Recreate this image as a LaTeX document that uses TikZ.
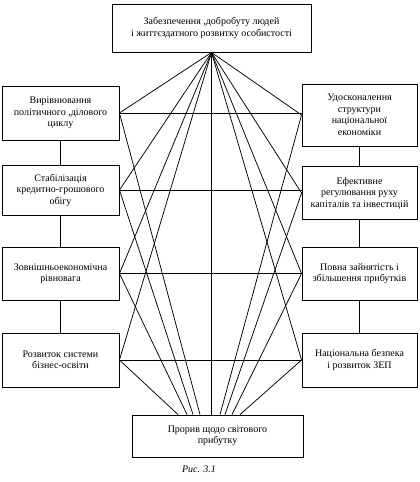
\documentclass[tikz,border=0pt]{standalone}
\usepackage{fontspec}
\setmainfont{Liberation Serif}

\begin{document}
\begin{tikzpicture}[x=1pt, y=-1pt,
    box/.style={draw, line width=0.9pt, align=center, inner sep=1pt,
      font=\fontsize{10}{11.5}\selectfont},
    lbox/.style={box, minimum width=117pt},
    rbox/.style={box, minimum width=115pt},
    link/.style={line width=0.75pt}]
    \useasboundingbox (0,0) rectangle (420,482);

    % верхній і нижній блоки
    \node[box, minimum width=199pt, minimum height=48pt] (top) at (211.5,28)
      {Забезпечення ,добробуту людей\\і життєздатного розвитку особистості};
    \node[box, minimum width=171pt, minimum height=42pt] (bot) at (217.5,436)
      {Прорив щодо світового\\прибутку};

    % ліва колонка
    \node[lbox, minimum height=54pt] (l1) at (60.5,113) {Вирівнювання\\політичного ,ділового\\циклу};
    \node[lbox, minimum height=50pt] (l2) at (60.5,190) {Стабілізація\\кредитно-грошового\\обігу};
    \node[lbox, minimum height=53pt] (l3) at (60.5,273.5) {Зовнішньоекономічна\\рівновага};
    \node[lbox, minimum height=54pt] (l4) at (60.5,360) {Розвиток системи\\бізнес-освіти};

    % права колонка
    \node[rbox, minimum height=62pt] (r1) at (359.5,115) {Удосконалення\\структури\\національної\\економіки};
    \node[rbox, minimum height=53pt] (r2) at (359.5,193) {Ефективне\\регулювання руху\\капіталів та інвестицій};
    \node[rbox, minimum height=53pt] (r3) at (359.5,273.5) {Повна зайнятість і\\збільшення прибутків};
    \node[rbox, minimum height=54pt] (r4) at (359.5,360) {Національна безпека\\і розвиток ЗЕП};

    % зв'язки між блоками колонок
    \draw[link] (l1) -- (l2) -- (l3) -- (l4);
    \draw[link] (r1) -- (r2) -- (r3) -- (r4);

    % центральна вісь
    \draw[link] (top.south) -- (top.south |- bot.north);

    % промені від верхнього блоку та до нижнього
    \foreach \n/\bx in {l1/200, l2/193, l3/187, l4/178} {
      \draw[link] (top.south) -- (\n.east);
      \draw[link] (\n.east) -- (\bx,0 |- bot.north);
    }
    \foreach \n/\bx in {r1/220, r2/225, r3/232, r4/240} {
      \draw[link] (top.south) -- (\n.west);
      \draw[link] (\n.west) -- (\bx,0 |- bot.north);
    }

    % горизонталі між лівою і правою колонками
    \foreach \i in {1,...,4}
      \draw[link] (l\i.east) -- (l\i.east -| r\i.west);

    % підпис
    \node[font=\fontsize{10}{11}\selectfont\itshape] (cap) at (199,469) {Рис. 3.1};
\end{tikzpicture}
\end{document}
